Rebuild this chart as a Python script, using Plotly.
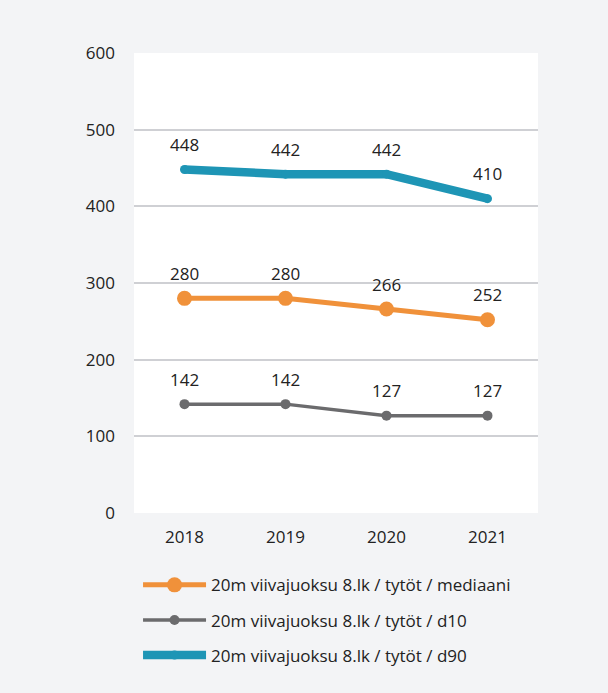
import plotly.graph_objects as go

years = ["2018", "2019", "2020", "2021"]
mediaani = [280, 280, 266, 252]
d10 = [142, 142, 127, 127]
d90 = [448, 442, 442, 410]
names = [
    "20m viivajuoksu 8.lk / tytöt / mediaani",
    "20m viivajuoksu 8.lk / tytöt / d10",
    "20m viivajuoksu 8.lk / tytöt / d90",
]
y_ticks = [0, 100, 200, 300, 400, 500, 600]

FONT = "Open Sans"
TXT = "#222222"
FS = 17

fig = go.Figure()

series = [
    (mediaani, names[0], "#f0913a", 5, 15),
    (d10, names[1], "#6b6b6d", 3.5, 10),
    (d90, names[2], "#1e95b5", 8.5, 9),
]

for i, (vals, name, color, lw, ms) in enumerate(series):
    fig.add_trace(go.Scatter(
        x=years, y=vals, name=name,
        mode="lines+markers",
        line=dict(color=color, width=lw),
        marker=dict(color=color, size=ms),
        legendgroup=f"g{i}",
    ))
    # value labels above each point (category index on x)
    for j, v in enumerate(vals):
        fig.add_annotation(
            x=j, y=v, xref="x", yref="y", text=str(v), showarrow=False,
            yshift=25, font=dict(family=FONT, size=FS, color=TXT),
        )

fig.update_layout(
    width=608, height=693,
    paper_bgcolor="#f3f4f6",
    plot_bgcolor="#ffffff",
    font=dict(family=FONT, size=FS, color=TXT),
    margin=dict(l=134, r=70, t=53, b=180),
    showlegend=True,
    legend=dict(
        x=0.01, y=-0.118, xanchor="left", yanchor="top",
        orientation="v", bgcolor="rgba(0,0,0,0)",
        font=dict(family=FONT, size=FS, color=TXT),
        tracegroupgap=10, itemwidth=63,
    ),
    xaxis=dict(
        type="category", range=[-0.5, 3.5],
        showgrid=False, zeroline=False, showline=False,
        ticks="", ticklabelstandoff=12,
        tickfont=dict(size=FS, color=TXT),
    ),
    yaxis=dict(
        range=[0, 600], tickvals=y_ticks,
        showgrid=True, gridcolor="#cfd0d4", gridwidth=1.5,
        zeroline=False, showline=False, ticks="",
        ticklabelstandoff=18, tickfont=dict(size=FS, color=TXT),
    ),
)

fig.write_html(
    "out.html",
    config={"displayModeBar": False},
    post_script="document.body.style.margin='0';",
)
